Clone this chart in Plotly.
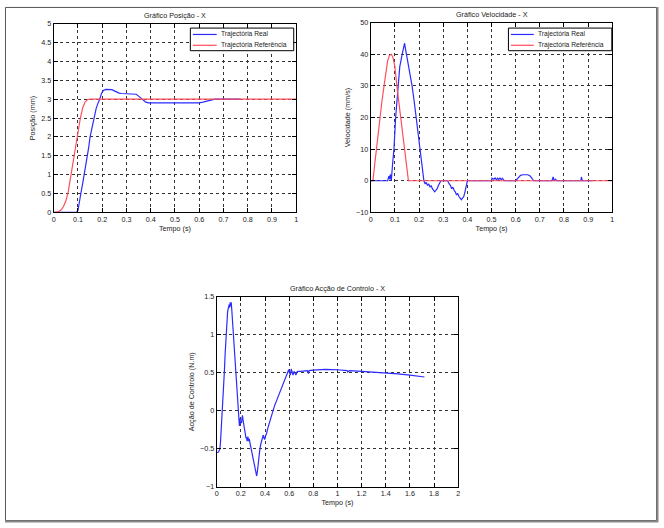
import plotly.graph_objects as go

W, H = 664, 528

# ---------------- data ----------------
# Position (mm)
t_pos_real = [0, 0.05, 0.09, 0.095, 0.10, 0.105, 0.112, 0.12, 0.126, 0.133, 0.140, 0.145, 0.150,
              0.158, 0.166, 0.175, 0.183, 0.190, 0.197, 0.205, 0.215, 0.23, 0.24, 0.25, 0.26, 0.27,
              0.28, 0.30, 0.33, 0.34, 0.35, 0.36, 0.37, 0.38, 0.39, 0.45, 0.50, 0.55, 0.60, 0.615,
              0.63, 0.645, 0.665, 0.70, 0.74, 0.77]
pos_real = [0, 0, 0, 0.01, 0.05, 0.2, 0.5, 0.78, 1.0, 1.25, 1.5, 1.75, 2.0,
            2.25, 2.5, 2.75, 2.9, 3.0, 3.15, 3.23, 3.26, 3.26, 3.25, 3.22, 3.18, 3.16,
            3.15, 3.15, 3.15, 3.13, 3.08, 3.02, 2.96, 2.92, 2.9, 2.9, 2.9, 2.9, 2.9, 2.92,
            2.95, 2.98, 3.0, 3.0, 3.0, 3.0]

t_pos_ref = [0, 0.01, 0.02, 0.03, 0.04, 0.05, 0.06, 0.07, 0.08, 0.09, 0.10, 0.11, 0.12, 0.13,
             0.14, 0.15, 1.0]
pos_ref = [0, 0, 0.02, 0.06, 0.15, 0.3, 0.55, 0.95, 1.3, 1.7, 2.1, 2.5, 2.78, 2.93,
           2.99, 3.0, 3.0]

# Velocity (mm/s)
t_vel_real = [0, 0.07, 0.075, 0.078, 0.081, 0.085, 0.09, 0.096, 0.103, 0.112, 0.12, 0.13, 0.135,
              0.14, 0.143, 0.148, 0.155, 0.163, 0.171, 0.18, 0.188, 0.195, 0.201, 0.21, 0.22,
              0.225, 0.23, 0.235, 0.24, 0.245, 0.25, 0.255, 0.26, 0.265, 0.27, 0.275, 0.28, 0.285,
              0.29, 0.30, 0.31, 0.318, 0.325, 0.33, 0.335, 0.34, 0.345, 0.35, 0.355, 0.36, 0.365,
              0.37, 0.375, 0.38, 0.385, 0.39, 0.395, 0.40, 0.5, 0.502, 0.51, 0.515, 0.52, 0.525,
              0.53, 0.535, 0.54, 0.545, 0.55, 0.555, 0.6, 0.605, 0.61, 0.615, 0.62, 0.63, 0.64,
              0.65, 0.66, 0.665, 0.67, 0.675, 0.72, 0.75, 0.755, 0.76, 0.765, 0.77, 0.82, 0.87,
              0.872, 0.876, 0.88, 0.92]
vel_real = [0, 0, 1.5, 0.5, 2, 0, 5, 10, 20, 30, 36, 40, 42,
            43.5, 42, 40, 36, 33, 30, 25, 20, 15, 10, 5, 0,
            -1, -0.5, -1.5, -1, -2, -1.5, -2.5, -3, -3.5, -3, -2.5, -1.5, -0.5,
            0, 0, 0, 0, -1, -1.5, -2.5, -2, -3, -3.5, -4.5, -4, -5,
            -5.5, -6, -5.5, -5, -3.5, -1.5, 0, 0, 0.8, 0.5, 0.9, 0.3, 0.8,
            0.4, 0.9, 0.3, 0.8, 0.2, 0, 0, 0.5, 0.8, 1.3, 1.7, 1.9, 2.0,
            1.9, 1.5, 1.0, 0.3, 0, 0, 0, 1.2, 0, 0.5, 0, 0, 0,
            1.2, 0, 0, 0]

t_vel_ref = [0, 0.009, 0.016, 0.023, 0.03, 0.037, 0.046, 0.055, 0.063, 0.07, 0.077, 0.085,
             0.092, 0.1, 0.108, 0.116, 0.123, 0.13, 0.137, 0.146, 0.156, 1.0]
vel_ref = [0, 0, 5, 10, 15, 20, 25, 30, 35, 38, 39.6, 40,
           39, 36, 30, 25, 20, 15, 10, 5, 0, 0]

# Control action (N.m)
t_ctrl = [0, 0.01, 0.016, 0.022, 0.027, 0.032, 0.038, 0.044, 0.049, 0.056, 0.063, 0.07, 0.077,
          0.083, 0.09, 0.097, 0.104, 0.108, 0.112, 0.116, 0.12, 0.124, 0.13, 0.14, 0.15, 0.159,
          0.168, 0.178, 0.183, 0.188, 0.192, 0.196, 0.2, 0.205, 0.209, 0.213, 0.218, 0.222, 0.227,
          0.232, 0.237, 0.242, 0.246, 0.252, 0.258, 0.264, 0.27, 0.275, 0.283, 0.29, 0.3, 0.315,
          0.325, 0.331, 0.337, 0.342, 0.35, 0.358, 0.368, 0.378, 0.386, 0.392, 0.397, 0.405, 0.413,
          0.425, 0.438, 0.452, 0.465, 0.48, 0.5, 0.52, 0.536, 0.55, 0.561, 0.572, 0.583, 0.59,
          0.596, 0.603, 0.61, 0.617, 0.624, 0.632, 0.64, 0.648, 0.656, 0.664, 0.672, 0.69, 0.75,
          0.76, 0.765, 0.8, 0.9, 1.0, 1.08, 1.085, 1.1, 1.2, 1.3, 1.4, 1.5, 1.6, 1.72]
ctrl = [-0.55, -0.55, -0.54, -0.52, -0.5, -0.4, -0.25, -0.12, 0, 0.22, 0.5, 0.75, 1.0,
        1.15, 1.3, 1.36, 1.4, 1.36, 1.43, 1.38, 1.43, 1.35, 1.2, 1.0, 0.72, 0.5,
        0.25, 0, -0.12, -0.2, -0.1, -0.18, -0.14, -0.16, -0.1, -0.06, -0.12, -0.18, -0.2,
        -0.26, -0.3, -0.36, -0.35, -0.4, -0.34, -0.4, -0.37, -0.42, -0.48, -0.52, -0.6, -0.72,
        -0.8, -0.86, -0.8, -0.7, -0.6, -0.5, -0.42, -0.35, -0.32, -0.36, -0.38, -0.33, -0.3,
        -0.22, -0.15, -0.07, 0, 0.07, 0.15, 0.23, 0.3, 0.35, 0.4, 0.45, 0.5, 0.52,
        0.54, 0.5, 0.47, 0.55, 0.52, 0.47, 0.52, 0.5, 0.47, 0.51, 0.52, 0.52, 0.53,
        0.49, 0.53, 0.535, 0.545, 0.54, 0.53, 0.51, 0.53, 0.52, 0.51, 0.5, 0.485, 0.47, 0.445]

legend_labels = ["Trajectória Real", "Trajectória Referência"]

BLUE = "#2b2bff"
RED = "#ff4d5e"
LW = 1.2

fig = go.Figure()
fig.add_trace(go.Scatter(x=t_pos_real, y=pos_real, mode="lines", name=legend_labels[0],
                         line=dict(color=BLUE, width=LW), xaxis="x", yaxis="y"))
fig.add_trace(go.Scatter(x=t_pos_ref, y=pos_ref, mode="lines", name=legend_labels[1],
                         line=dict(color=RED, width=LW), xaxis="x", yaxis="y"))
fig.add_trace(go.Scatter(x=t_vel_real, y=vel_real, mode="lines", name=legend_labels[0],
                         line=dict(color=BLUE, width=LW), xaxis="x2", yaxis="y2"))
fig.add_trace(go.Scatter(x=t_vel_ref, y=vel_ref, mode="lines", name=legend_labels[1],
                         line=dict(color=RED, width=LW), xaxis="x2", yaxis="y2"))
fig.add_trace(go.Scatter(x=t_ctrl, y=ctrl, mode="lines", name="Acção de Controlo",
                         line=dict(color=BLUE, width=LW), xaxis="x3", yaxis="y3"))

FONT = "Liberation Sans, Arial, sans-serif"
TXT = "#222222"
FS = 7.2
FS_LEG = 6.7


def ax(domain, rng, dtick, title, anchor, standoff):
    return dict(domain=domain, range=rng, dtick=dtick, tick0=rng[0], anchor=anchor,
                showline=True, linecolor="black", linewidth=1, mirror="ticks",
                ticks="inside", ticklen=4, tickcolor="black", tickwidth=1,
                showgrid=True, gridcolor="#333333", griddash="dot", gridwidth=1,
                zeroline=False, tickfont=dict(size=FS, color=TXT, family=FONT),
                title=dict(text=title, font=dict(size=FS, color=TXT, family=FONT), standoff=standoff),
                fixedrange=True)


def px_x(a, b):
    return [a / W, b / W]


def px_y(top, bottom):
    return [1 - bottom / H, 1 - top / H]


fig.update_layout(
    width=W, height=H, autosize=False,
    margin=dict(l=0, r=0, t=0, b=0),
    paper_bgcolor="white", plot_bgcolor="white",
    font=dict(family=FONT, size=FS, color=TXT),
    showlegend=False,
    xaxis=ax(px_x(52, 296), [0, 1], 0.1, "Tempo (s)", "y", 2),
    yaxis=ax(px_y(20, 212), [0, 5], 0.5, "Posição (mm)", "x", 4),
    xaxis2=ax(px_x(371, 614), [0, 1], 0.1, "Tempo (s)", "y2", 2),
    yaxis2=ax(px_y(19, 212), [-10, 50], 10, "Velocidade (mm/s)", "x2", 4),
    xaxis3=ax(px_x(216, 459), [0, 2], 0.2, "Tempo (s)", "y3", 2),
    yaxis3=ax(px_y(298, 491), [-1, 1.5], 0.5, "Acção de Controlo (N.m)", "x3", 4),
)

titles = [("Gráfico Posição - X", (52 + 296) / 2, 20),
          ("Gráfico Velocidade - X", (371 + 614) / 2, 19),
          ("Gráfico Acção de Controlo - X", (216 + 459) / 2, 298)]
for text, cx, top in titles:
    fig.add_annotation(text=text, x=cx / W, y=1 - top / H, xref="paper", yref="paper",
                       xanchor="center", yanchor="bottom", yshift=2, showarrow=False,
                       font=dict(size=FS, color=TXT, family=FONT))

# legend boxes (MATLAB-style, compact)
for (bx0, bx1, sx0, sx1, tx) in [(189.5, 293.5, 192, 216, 218), (509.5, 613.5, 512, 535, 537)]:
    fig.add_shape(type="rect", xref="paper", yref="paper",
                  x0=bx0 / W, x1=bx1 / W, y0=1 - 47.5 / H, y1=1 - 24.5 / H,
                  line=dict(color="black", width=1), fillcolor="white", layer="above")
    for i, (lab, col, yy) in enumerate([(legend_labels[0], BLUE, 31), (legend_labels[1], RED, 42)]):
        fig.add_shape(type="line", xref="paper", yref="paper",
                      x0=sx0 / W, x1=sx1 / W, y0=1 - yy / H, y1=1 - yy / H,
                      line=dict(color=col, width=LW), layer="above")
        fig.add_annotation(text=lab, x=tx / W, y=1 - yy / H, xref="paper", yref="paper",
                           xanchor="left", yanchor="middle", showarrow=False,
                           font=dict(size=FS_LEG, color=TXT, family=FONT))

# outer frame
fig.add_shape(type="rect", xref="paper", yref="paper",
              x0=3.5 / W, x1=658.5 / W, y0=1 - 525.5 / H, y1=1 - 3.5 / H,
              line=dict(color="#555555", width=1), fillcolor="rgba(0,0,0,0)", layer="above")
fig.add_shape(type="line", xref="paper", yref="paper",
              x0=659.5 / W, x1=659.5 / W, y0=1 - 527 / H, y1=1 - 3 / H,
              line=dict(color="#888888", width=2))
fig.add_shape(type="line", xref="paper", yref="paper",
              x0=3 / W, x1=660 / W, y0=1 - 526.5 / H, y1=1 - 526.5 / H,
              line=dict(color="#888888", width=2))

fig.write_html("out.html")
